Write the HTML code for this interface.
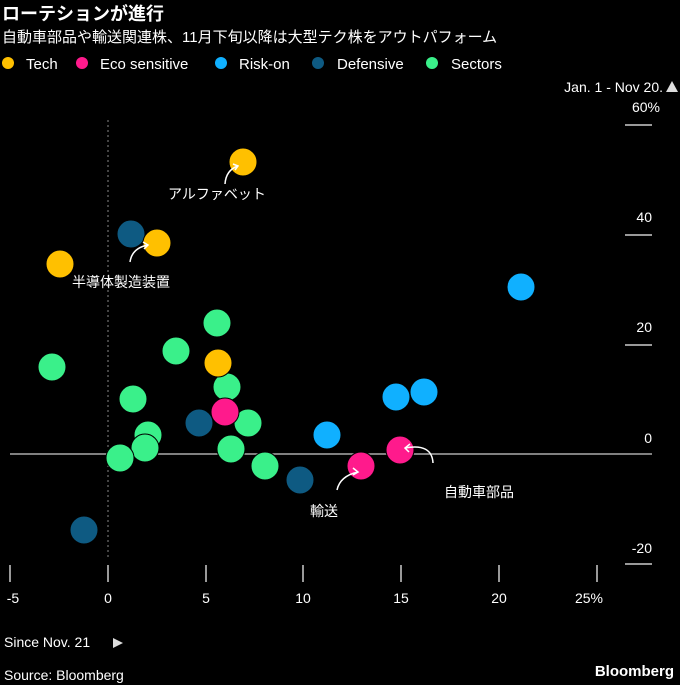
<!DOCTYPE html>
<html><head><meta charset="utf-8"><style>
body{margin:0;background:#000;}
svg text{font-family:"Liberation Sans","Noto Sans CJK JP",sans-serif;fill:#fff;}
</style></head><body>
<svg width="680" height="685" viewBox="0 0 680 685" xmlns="http://www.w3.org/2000/svg" style="display:block">
<rect width="680" height="685" fill="#000"/>
<text x="2" y="20" font-size="18" font-weight="bold">ローテションが進行</text>
<text x="2" y="42" font-size="15" fill="#eee">自動車部品や輸送関連株、11月下旬以降は大型テク株をアウトパフォーム</text>
<g font-size="15">
<circle cx="8" cy="63" r="6" fill="#ffc000"/><text x="26" y="69">Tech</text>
<circle cx="82" cy="63" r="6" fill="#ff1a8c"/><text x="100" y="69">Eco sensitive</text>
<circle cx="221" cy="63" r="6" fill="#10b0ff"/><text x="239" y="69">Risk-on</text>
<circle cx="318" cy="63" r="6" fill="#0e5a82"/><text x="337" y="69">Defensive</text>
<circle cx="432" cy="63" r="6" fill="#3af08a"/><text x="451" y="69">Sectors</text>
</g>
<text x="663" y="92" font-size="14" text-anchor="end" fill="#ddd">Jan. 1 - Nov 20.</text>
<polygon points="666,92 678,92 672,81" fill="#ddd"/>
<g font-size="14" fill="#ddd" text-anchor="end">
<text x="660" y="112">60%</text><text x="652" y="222">40</text><text x="652" y="332">20</text><text x="652" y="443">0</text><text x="652" y="553">-20</text>
</g>
<g stroke="#ccc" stroke-width="1.5">
<line x1="625" y1="125" x2="652" y2="125"/><line x1="625" y1="235" x2="652" y2="235"/><line x1="625" y1="345" x2="652" y2="345"/><line x1="625" y1="564" x2="652" y2="564"/>
<line x1="10" y1="565" x2="10" y2="582"/><line x1="108" y1="565" x2="108" y2="582"/><line x1="206" y1="565" x2="206" y2="582"/><line x1="303" y1="565" x2="303" y2="582"/><line x1="401" y1="565" x2="401" y2="582"/><line x1="499" y1="565" x2="499" y2="582"/><line x1="597" y1="565" x2="597" y2="582"/>
</g>
<line x1="108" y1="120" x2="108" y2="560" stroke="#888" stroke-width="1" stroke-dasharray="2,3"/>
<line x1="10" y1="454" x2="652" y2="454" stroke="#aaa" stroke-width="1.5"/>
<g font-size="14" fill="#ddd" text-anchor="middle">
<text x="13" y="603">-5</text><text x="108" y="603">0</text><text x="206" y="603">5</text><text x="303" y="603">10</text><text x="401" y="603">15</text><text x="499" y="603">20</text><text x="589" y="603">25%</text>
</g>
<text x="4" y="647" font-size="14" fill="#ddd">Since Nov. 21</text>
<polygon points="113,638 113,648 123,643" fill="#ddd"/>
<text x="4" y="680" font-size="14" fill="#ddd">Source: Bloomberg</text>
<text x="674" y="676" font-size="15" font-weight="bold" text-anchor="end">Bloomberg</text>
<g stroke="#000" stroke-width="1">
<g fill="#3af08a">
<circle cx="52" cy="367" r="14"/><circle cx="217" cy="323" r="14"/><circle cx="176" cy="351" r="14"/><circle cx="227" cy="387" r="14"/><circle cx="133" cy="399" r="14"/><circle cx="248" cy="423" r="14"/><circle cx="148" cy="435" r="14"/><circle cx="145" cy="448" r="14"/><circle cx="120" cy="458" r="14"/><circle cx="231" cy="449" r="14"/><circle cx="265" cy="466" r="14"/>
</g>
<g fill="#0e5a82"><circle cx="131" cy="234" r="14"/><circle cx="199" cy="423" r="14"/><circle cx="300" cy="480" r="14"/><circle cx="84" cy="530" r="14"/></g>
<g fill="#10b0ff"><circle cx="521" cy="287" r="14"/><circle cx="424" cy="392" r="14"/><circle cx="396" cy="397" r="14"/><circle cx="327" cy="435" r="14"/></g>
<g fill="#ffc000"><circle cx="243" cy="162" r="14"/><circle cx="157" cy="243" r="14"/><circle cx="60" cy="264" r="14"/><circle cx="218" cy="363" r="14"/></g>
<g fill="#ff1a8c"><circle cx="225" cy="412" r="14"/><circle cx="361" cy="466" r="14"/><circle cx="400" cy="450" r="14"/></g>
</g>
<g fill="none" stroke="#fff" stroke-width="1.5">
<path d="M225,184 Q226,170 238,166"/><path d="M233,164 l5,2 -3,4"/>
<path d="M130,262 Q132,248 148,245"/><path d="M143,242 l5,3 -4,4"/>
<path d="M337,490 Q340,476 358,472"/><path d="M353,468 l5,4 -5,3"/>
<path d="M433,463 Q432,443 405,448"/><path d="M410,444 l-5,4 4,4"/>
</g>
<g font-size="14" fill="#eee">
<text x="168" y="199">アルファベット</text>
<text x="72" y="287">半導体製造装置</text>
<text x="310" y="516">輸送</text>
<text x="444" y="497">自動車部品</text>
</g>
</svg>
</body></html>
